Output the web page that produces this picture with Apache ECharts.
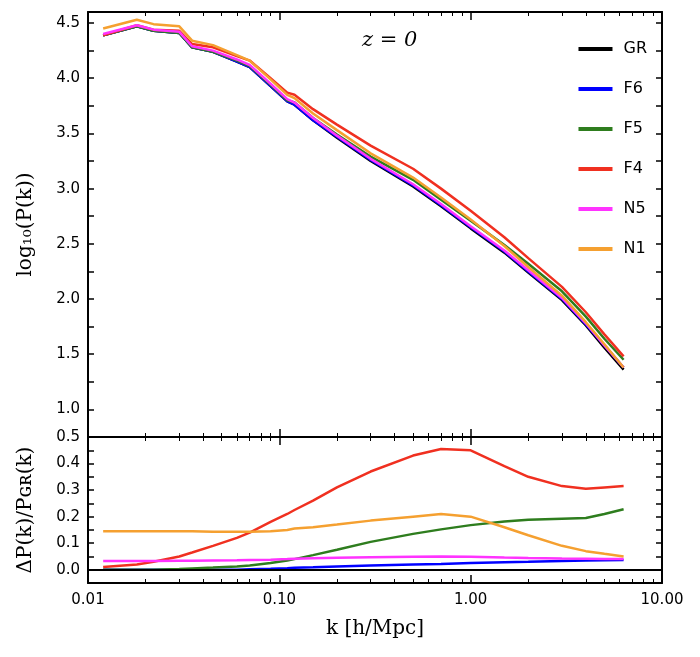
<!DOCTYPE html>
<html>
<head>
<meta charset="utf-8">
<script src="https://cdn.jsdelivr.net/npm/echarts@6/dist/echarts.min.js"></script>
</head>
<body style="margin:0;background:#fff">
<div id="main" style="width:700px;height:657px;"></div>
<script>
var kVals = [0.012,0.018,0.022,0.03,0.035,0.045,0.06,0.07,0.09,0.11,0.12,0.15,0.2,0.3,0.5,0.7,1.0,1.5,2,3,4,5,6.3];
var names = ['GR','F6','F5','F4','N5','N1'];
var colors = ['#000000','#0000ff','#2e7d1e','#f03020','#ff33ff','#f5a030'];
// log10 P(k)
var pGR = [4.39,4.47,4.43,4.41,4.28,4.24,4.15,4.10,3.93,3.79,3.76,3.62,3.46,3.25,3.02,2.84,2.64,2.42,2.24,1.99,1.76,1.56,1.36];
var pF6 = [4.39,4.47,4.43,4.41,4.28,4.24,4.15,4.10,3.93,3.79,3.76,3.62,3.47,3.26,3.03,2.85,2.65,2.43,2.25,2.00,1.77,1.58,1.38];
var pF5 = [4.39,4.47,4.43,4.41,4.28,4.24,4.16,4.11,3.94,3.80,3.78,3.64,3.49,3.29,3.08,2.90,2.71,2.49,2.32,2.07,1.84,1.64,1.45];
var pF4 = [4.39,4.48,4.44,4.43,4.31,4.28,4.20,4.16,4.00,3.87,3.85,3.72,3.58,3.39,3.18,3.00,2.80,2.56,2.37,2.11,1.88,1.68,1.48];
var pN5 = [4.40,4.48,4.44,4.42,4.29,4.25,4.17,4.12,3.95,3.81,3.78,3.64,3.48,3.27,3.04,2.86,2.66,2.44,2.26,2.01,1.78,1.58,1.38];
var pN1 = [4.45,4.53,4.49,4.47,4.34,4.30,4.21,4.16,3.99,3.85,3.82,3.68,3.53,3.32,3.10,2.92,2.72,2.48,2.29,2.03,1.79,1.59,1.38];
// relative difference to GR
var dGR = [0,0,0,0,0,0,0,0,0,0,0,0,0,0,0,0,0,0,0,0,0,0,0];
var dF6 = [0,0,0,0,0,0,0,0.002,0.004,0.006,0.007,0.009,0.012,0.016,0.02,0.022,0.025,0.028,0.03,0.033,0.035,0.036,0.037];
var dF5 = [0,0,0,0.003,0.005,0.008,0.012,0.016,0.025,0.035,0.04,0.055,0.075,0.105,0.135,0.152,0.168,0.182,0.188,0.192,0.195,0.21,0.228];
var dF4 = [0.01,0.02,0.03,0.05,0.065,0.09,0.12,0.14,0.18,0.21,0.225,0.26,0.31,0.37,0.43,0.455,0.45,0.39,0.35,0.315,0.305,0.31,0.315];
var dN5 = [0.033,0.033,0.033,0.034,0.034,0.035,0.036,0.037,0.038,0.04,0.041,0.043,0.045,0.047,0.049,0.05,0.049,0.046,0.044,0.042,0.041,0.04,0.04];
var dN1 = [0.145,0.145,0.145,0.145,0.145,0.143,0.143,0.143,0.145,0.15,0.155,0.16,0.17,0.185,0.2,0.21,0.2,0.16,0.13,0.09,0.07,0.06,0.05];

var topData = [pGR,pF6,pF5,pF4,pN5,pN1];
var botData = [dGR,dF6,dF5,dF4,dN5,dN1];

function pairs(ys) { return kVals.map(function (k, i) { return [k, ys[i]]; }); }

var myChart = echarts.init(document.getElementById('main'));
function xAx(gi, pos, showLab) {
    return {type: 'log', gridIndex: gi, position: pos, min: 0.01, max: 10, logBase: 10,
        axisLine: {show: true, onZero: false, lineStyle: {color: '#000', width: 2}},
        axisTick: {inside: true, length: 8, lineStyle: {color: '#000', width: 1.5}},
        minorTick: {show: true, splitNumber: 9, length: 4, lineStyle: {color: '#000'}},
        splitLine: {show: false},
        axisLabel: {show: showLab, margin: 10, fontFamily: 'DejaVu Sans', fontSize: 15, color: '#000',
            formatter: function (v) { return v.toFixed(2); }}};
}
function yAx(gi, pos, min, max, step, showLab, fmt, name) {
    return {type: 'value', gridIndex: gi, position: pos, min: min, max: max, interval: step,
        axisLine: {show: true, lineStyle: {color: '#000', width: 2}},
        axisTick: {inside: true, length: 6, lineStyle: {color: '#000', width: 1.5}},
        splitLine: {show: false},
        axisLabel: {show: showLab, margin: 8, fontFamily: 'DejaVu Sans', fontSize: 15, color: '#000', formatter: fmt},
        name: name, nameLocation: 'middle', nameRotate: 90, nameGap: 52,
        nameTextStyle: {fontFamily: 'DejaVu Serif', fontSize: 20, color: '#000'}};
}
var series = [];
names.forEach(function (n, i) {
    series.push({name: n, type: 'line', xAxisIndex: 0, yAxisIndex: 0, data: pairs(topData[i]),
        showSymbol: false, lineStyle: {color: colors[i], width: 2.5}, itemStyle: {color: colors[i]}, z: i === 0 ? 1 : 2});
    series.push({name: n, type: 'line', xAxisIndex: 2, yAxisIndex: 2, data: pairs(botData[i]),
        showSymbol: false, lineStyle: {color: colors[i], width: i === 0 ? 0 : 2.5}, itemStyle: {color: colors[i]}});
});
// zero baseline in the lower panel
series.push({type: 'line', xAxisIndex: 2, yAxisIndex: 2, data: [], markLine: {symbol: 'none', silent: true,
    label: {show: false}, lineStyle: {color: '#000', width: 2, type: 'solid'}, data: [{yAxis: 0}]}});

myChart.setOption({
    animation: false,
    grid: [
        {left: 88, right: 38, top: 12, height: 425},
        {left: 88, right: 38, top: 437, height: 146}
    ],
    xAxis: [xAx(0, 'bottom', false), xAx(0, 'top', false),
        Object.assign(xAx(1, 'bottom', true), {name: 'k [h/Mpc]', nameLocation: 'middle', nameGap: 36,
            nameTextStyle: {fontFamily: 'DejaVu Serif', fontSize: 20, color: '#000'}}),
        xAx(1, 'top', false)],
    yAxis: [
        yAx(0, 'left', 0.75, 4.6, 0.25, true, function (v) {
            return (Math.abs(v * 2 - Math.round(v * 2)) < 1e-6 && v >= 1) ? v.toFixed(1) : '';
        }, 'log\u2081\u2080(P(k))'),
        yAx(0, 'right', 0.75, 4.6, 0.25, false, null, ''),
        yAx(1, 'left', -0.05, 0.5, 0.05, true, function (v) {
            return (Math.abs(v * 10 - Math.round(v * 10)) < 1e-6) ? v.toFixed(1) : '';
        }, '\u0394P(k)/P\u0262\u0280(k)'),
        yAx(1, 'right', -0.05, 0.5, 0.05, false, null, '')
    ],
    legend: {orient: 'vertical', right: 48, top: 36, itemGap: 24, itemWidth: 34, itemHeight: 4,
        icon: 'rect', textStyle: {fontFamily: 'DejaVu Sans', fontSize: 16, color: '#000', padding: [0, 0, 0, 6]},
        data: names.map(function (n, i) { return {name: n, itemStyle: {color: colors[i]}}; })},
    graphic: [{type: 'text', left: 362, top: 30, style: {text: 'z = 0', fontFamily: 'DejaVu Serif',
        fontStyle: 'italic', fontSize: 21, fill: '#000'}}],
    series: series
});
</script>
</body>
</html>
